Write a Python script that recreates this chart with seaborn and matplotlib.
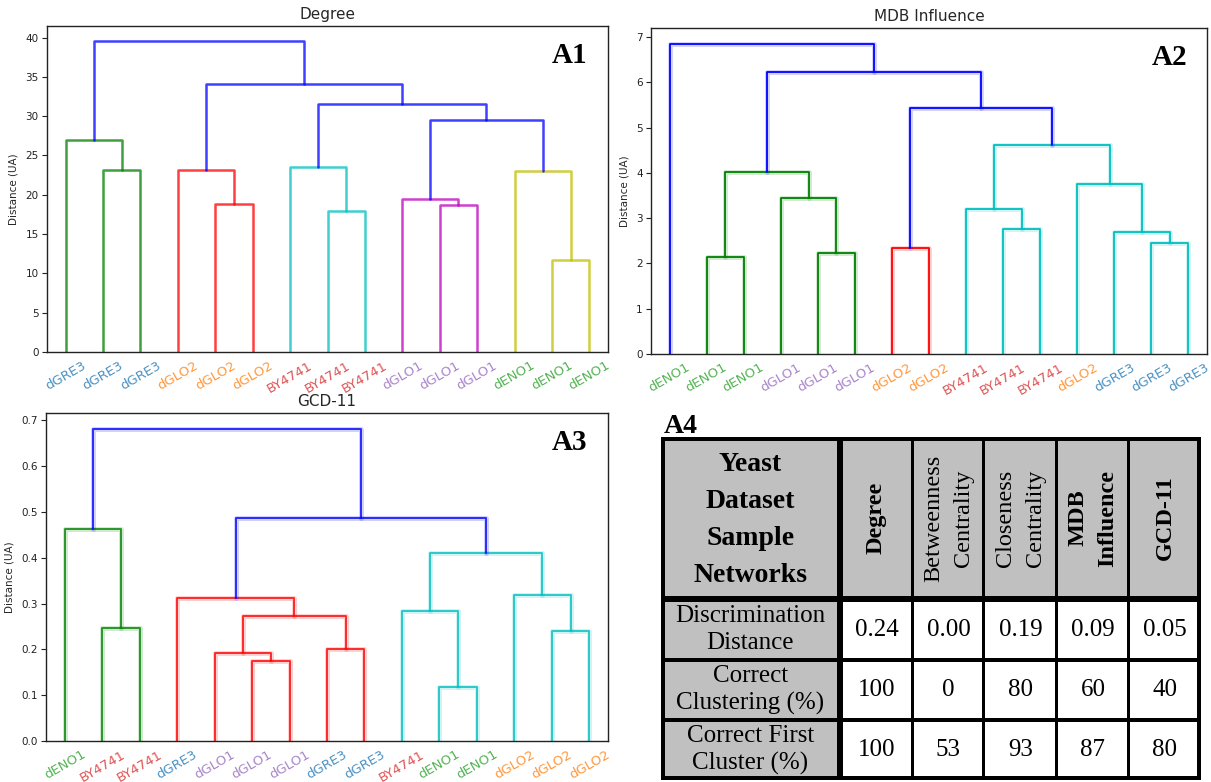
import matplotlib
matplotlib.use("Agg")
import matplotlib.pyplot as plt
import matplotlib.patheffects as pe
from matplotlib.patches import Rectangle
import pandas as pd
import seaborn as sns

# ---------------- Dendrogram data (leaves in display order) ----------------
# Each merge k creates node n_leaves + k from children (left[k], right[k]).
degree_leaves = ["dGRE3", "dGRE3", "dGRE3", "dGLO2", "dGLO2", "dGLO2",
                 "BY4741", "BY4741", "BY4741", "dGLO1", "dGLO1", "dGLO1",
                 "dENO1", "dENO1", "dENO1"]
degree_left = [1, 0, 4, 3, 7, 6, 10, 9, 13, 12, 22, 20, 18, 16]
degree_right = [2, 15, 5, 17, 8, 19, 11, 21, 14, 23, 24, 25, 26, 27]
degree_height = [23.1, 27.0, 18.8, 23.2, 17.9, 23.5, 18.7, 19.4, 11.7, 23.0,
                 29.5, 31.5, 34.1, 39.5]
degree_colour = ["g", "g", "r", "r", "c", "c", "m", "m", "y", "y",
                 "b", "b", "b", "b"]

mdb_leaves = ["dENO1", "dENO1", "dENO1", "dGLO1", "dGLO1", "dGLO1",
              "dGLO2", "dGLO2", "BY4741", "BY4741", "BY4741", "dGLO2",
              "dGRE3", "dGRE3", "dGRE3"]
mdb_left = [1, 4, 3, 15, 6, 9, 8, 13, 12, 11, 21, 19, 18, 0]
mdb_right = [2, 5, 16, 17, 7, 10, 20, 14, 22, 23, 24, 25, 26, 27]
mdb_height = [2.14, 2.23, 3.45, 4.03, 2.35, 2.76, 3.21, 2.46, 2.69, 3.76,
              4.62, 5.44, 6.22, 6.86]
mdb_colour = ["g", "g", "g", "g", "r", "c", "c", "c", "c", "c",
              "c", "b", "b", "b"]

gcd_leaves = ["dENO1", "BY4741", "BY4741", "dGRE3", "dGLO1", "dGLO1",
              "dGLO1", "dGRE3", "dGRE3", "BY4741", "dENO1", "dENO1",
              "dGLO2", "dGLO2", "dGLO2"]
gcd_left = [1, 0, 5, 4, 7, 18, 3, 10, 9, 13, 12, 23, 21, 16]
gcd_right = [2, 15, 6, 17, 8, 19, 20, 11, 22, 14, 24, 25, 26, 27]
gcd_height = [0.247, 0.464, 0.175, 0.193, 0.201, 0.272, 0.313, 0.118, 0.284,
              0.241, 0.318, 0.411, 0.488, 0.682]
gcd_colour = ["g", "g", "r", "r", "r", "r", "r", "c", "c", "c",
              "c", "c", "b", "b"]

# ---------------- Table data ----------------
table_columns = ["Degree", "Betweenness\nCentrality", "Closeness\nCentrality",
                 "MDB\nInfluence", "GCD-11"]
table_column_bold = [True, False, False, True, True]
table_rows = ["Discrimination\nDistance", "Correct\nClustering (%)",
              "Correct First\nCluster (%)"]
discrimination_distance = [0.24, 0.00, 0.19, 0.09, 0.05]
correct_clustering = [100, 0, 80, 60, 40]
correct_first_cluster = [100, 53, 93, 87, 80]

# ---------------- Styling ----------------
LINK_COLOURS = {"b": (0, 0, 1), "g": (0, 0.5, 0), "r": (1, 0, 0),
                "c": (0, 0.75, 0.75), "m": (0.75, 0, 0.75),
                "y": (0.75, 0.75, 0)}
LABEL_COLOURS = {"dGRE3": "tab:blue", "dGLO2": "tab:orange",
                 "dENO1": "tab:green", "BY4741": "tab:red",
                 "dGLO1": "tab:purple"}

sns.set_theme(style="white")
plt.rcParams["font.family"] = ["DejaVu Sans"]
plt.rcParams["axes.edgecolor"] = "#222222"
plt.rcParams["axes.linewidth"] = 1.0


def link_frame(n_leaves, left, right, height, colour):
    x = {i: 5 + 10 * i for i in range(n_leaves)}
    y = {i: 0.0 for i in range(n_leaves)}
    rows = []
    for k, (a, b, h, c) in enumerate(zip(left, right, height, colour)):
        xs = [x[a], x[a], x[b], x[b]]
        ys = [y[a], h, h, y[b]]
        for j in range(4):
            rows.append({"link": k, "x": xs[j], "y": ys[j], "colour": c})
        x[n_leaves + k] = (x[a] + x[b]) / 2
        y[n_leaves + k] = h
    return pd.DataFrame(rows)


def draw_dendrogram(ax, leaves, left, right, height, colour, title, tag,
                    lw, alpha, halo, yticks):
    n = len(leaves)
    df = link_frame(n, left, right, height, colour)
    sns.lineplot(data=df, x="x", y="y", units="link", hue="colour",
                 palette=LINK_COLOURS, estimator=None, sort=False,
                 legend=False, linewidth=lw, alpha=alpha, ax=ax)
    if halo:
        for line in ax.lines:
            line.set_path_effects([
                pe.Stroke(linewidth=lw + 2.2, foreground=line.get_color(),
                          alpha=0.18),
                pe.Normal()])
    ax.set_xlim(0, 10 * n)
    ax.set_ylim(0, max(height) * 1.05)
    ax.set_yticks(yticks)
    ax.set_xticks([5 + 10 * i for i in range(n)])
    ax.set_xticklabels(leaves, rotation=30, fontsize=9.5)
    for lab, name in zip(ax.get_xticklabels(), leaves):
        lab.set_color(LABEL_COLOURS[name])
        lab.set_alpha(0.8)
    ax.tick_params(axis="x", length=0, pad=5)
    ax.tick_params(axis="y", left=True, length=3.5, width=0.8,
                   labelsize=7.5, pad=2.5, colors="#222222")
    ax.set_xlabel("")
    ax.set_ylabel("Distance (UA)", fontsize=7.5, labelpad=5)
    ax.set_title(title, fontsize=11, pad=5)
    ax.text(0.932, 0.91, tag, transform=ax.transAxes, ha="center",
            va="center", fontsize=21, fontweight="bold",
            family="Liberation Serif", color="black")


fig = plt.figure(figsize=(12.11, 7.82), dpi=100)

ax1 = fig.add_axes([0.0388, 0.5499, 0.4633, 0.4169])
draw_dendrogram(ax1, degree_leaves, degree_left, degree_right, degree_height,
                degree_colour, "Degree", "A1", lw=1.8, alpha=0.75, halo=False,
                yticks=list(range(0, 41, 5)))

ax2 = fig.add_axes([0.5376, 0.5473, 0.4591, 0.4169])
draw_dendrogram(ax2, mdb_leaves, mdb_left, mdb_right, mdb_height,
                mdb_colour, "MDB Influence", "A2", lw=1.3, alpha=1.0,
                halo=True, yticks=list(range(0, 8)))

ax3 = fig.add_axes([0.038, 0.0524, 0.4641, 0.4194])
draw_dendrogram(ax3, gcd_leaves, gcd_left, gcd_right, gcd_height,
                gcd_colour, "GCD-11", "A3", lw=1.4, alpha=0.8, halo=True,
                yticks=[0.0, 0.1, 0.2, 0.3, 0.4, 0.5, 0.6, 0.7])

# ---------------- Summary table ----------------
ax4 = fig.add_axes([0.5458, 0.00256, 0.4459, 0.4386])
col_edges = [0, 179, 252, 323, 396, 468, 540]
row_edges = [0, 162, 223, 283, 343]
col_sep = [8, 6, 3, 3, 3, 3, 8]
row_sep = [8, 6, 4, 4, 8]
ax4.set_xlim(col_edges[0], col_edges[-1])
ax4.set_ylim(row_edges[-1], row_edges[0])
ax4.axis("off")
ax4.add_patch(Rectangle((0, 0), col_edges[-1], row_edges[-1],
                        facecolor="black", edgecolor="none"))
grey = "#c0c0c0"
for r in range(len(row_edges) - 1):
    for c in range(len(col_edges) - 1):
        x0 = col_edges[c] + col_sep[c] / 2
        x1 = col_edges[c + 1] - col_sep[c + 1] / 2
        y0 = row_edges[r] + row_sep[r] / 2
        y1 = row_edges[r + 1] - row_sep[r + 1] / 2
        fill = grey if (r == 0 or c == 0) else "white"
        ax4.add_patch(Rectangle((x0, y0), x1 - x0, y1 - y0,
                                facecolor=fill, edgecolor="none"))

serif = "Liberation Serif"
cx = [(col_edges[i] + col_edges[i + 1]) / 2 for i in range(len(col_edges) - 1)]
cy = [(row_edges[i] + row_edges[i + 1]) / 2 for i in range(len(row_edges) - 1)]

ax4.text(cx[0], cy[0] + 2, "Yeast\nDataset\nSample\nNetworks", ha="center",
         va="center", fontsize=20, fontweight="bold", family=serif,
         linespacing=1.62, color="black")
for c, (name, bold) in enumerate(zip(table_columns, table_column_bold)):
    ax4.text(cx[c + 1], cy[0], name, ha="center", va="center", rotation=90,
             fontsize=17.5, fontweight="bold" if bold else "normal",
             family=serif, linespacing=1.55, color="black")
for r, name in enumerate(table_rows):
    ax4.text(cx[0], cy[r + 1], name, ha="center", va="center", fontsize=18,
             family=serif, linespacing=1.3, color="black")

value_rows = [[f"{v:.2f}" for v in discrimination_distance],
              [f"{v:d}" for v in correct_clustering],
              [f"{v:d}" for v in correct_first_cluster]]
for r, vals in enumerate(value_rows):
    for c, v in enumerate(vals):
        ax4.text(cx[c + 1], cy[r + 1], v, ha="center", va="center",
                 fontsize=18, family=serif, color="black")

fig.text(664 / 1211, 1 - 433 / 782, "A4", ha="left", va="baseline",
         fontsize=20, fontweight="bold", family=serif, color="black")

fig.savefig("out.png", dpi=100)
